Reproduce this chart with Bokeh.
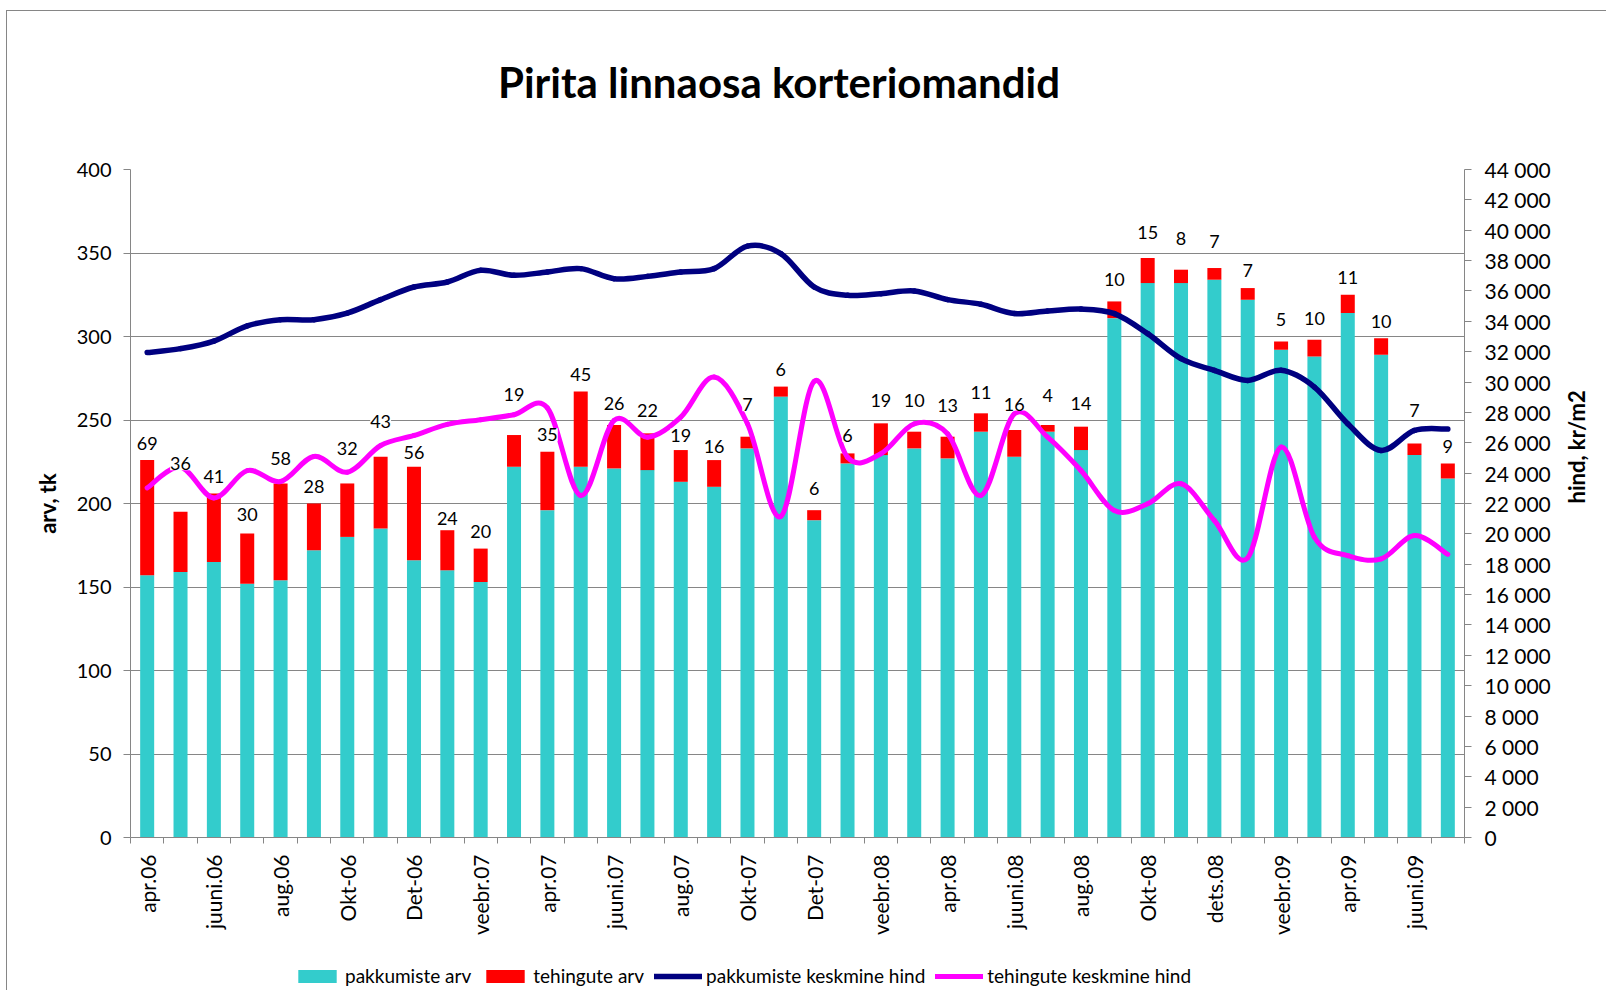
import math
import numpy as np
from bokeh.plotting import figure
from bokeh.layouts import column
from bokeh.models import (Range1d, LinearAxis, FixedTicker, ColumnDataSource,
                          LabelSet, Legend, LegendItem, Div)
from bokeh.core.properties import value
from bokeh.embed import file_html
from bokeh.resources import INLINE

# ---------------- data ----------------
title_text = "Pirita linnaosa korteriomandid"

tick_labels = ["apr.06", "juuni.06", "aug.06", "Okt-06", "Det-06", "veebr.07",
               "apr.07", "juuni.07", "aug.07", "Okt-07", "Det-07", "veebr.08",
               "apr.08", "juuni.08", "aug.08", "Okt-08", "dets.08", "veebr.09",
               "apr.09", "juuni.09"]

# pakkumiste arv (offers), count
offers = [157, 159, 165, 152, 154, 172, 180, 185, 166, 160,
          153, 222, 196, 222, 221, 220, 213, 210, 233, 264,
          190, 224, 229, 233, 227, 243, 228, 243, 232, 311,
          332, 332, 334, 322, 292, 288, 314, 289, 229, 215]

# tehingute arv (deals), count
deals = [69, 36, 41, 30, 58, 28, 32, 43, 56, 24,
         20, 19, 35, 45, 26, 22, 19, 16, 7, 6,
         6, 6, 19, 10, 13, 11, 16, 4, 14, 10,
         15, 8, 7, 7, 5, 10, 11, 10, 7, 9]

# pakkumiste keskmine hind, kr/m2
offer_price = [31940, 32200, 32700, 33700, 34110, 34110, 34540, 35430, 36260, 36590,
               37360, 37030, 37250, 37470, 36810, 36960, 37250, 37470, 38950, 38460,
               36260, 35710, 35820, 36000, 35430, 35120, 34510, 34680, 34810, 34510,
               33190, 31540, 30770, 30110, 30770, 29670, 27250, 25490, 26810, 26900]

# tehingute keskmine hind, kr/m2
deal_price = [23030, 24390, 22370, 24170, 23450, 25100, 24060, 25820, 26480, 27210,
              27520, 27850, 28300, 22530, 27470, 26370, 27690, 30330, 27250, 21150,
              30050, 25050, 25280, 27250, 26590, 22530, 27900, 26370, 24170, 21540,
              21980, 23300, 20880, 18420, 25710, 19780, 18570, 18350, 19890, 18650]

left_ticks = list(range(0, 401, 50))
right_ticks = list(range(0, 44001, 2000))

# style: extra lift (px) of individual data labels, as moved in the original
label_lift = [0, 31, 0, 2, 8, 0, 18, 18, -3, -5,
              0, 24, 0, 0, 5, 6, -2, -3, 15, 0,
              5, 1, 6, 14, 14, 4, 9, 13, 6, 5,
              9, 14, 10, 1, 5, 4, 0, 0, 16, 0]

# ---------------- styling ----------------
n = len(offers)
xs = list(range(n))
FONT = "Lato"
GRID = "#868686"
C_OFF, C_DEAL, C_OP, C_DP = "#33CCCC", "#FF0000", "#000080", "#FF00FF"
W = 1599

# ---------------- title ----------------
title_div = Div(text=('<div style="font-family:Lato;font-size:42px;font-weight:bold;'
                      'color:#000000;line-height:50px;margin:46px 0 0 491px;'
                      'white-space:nowrap">' + title_text + '</div>'),
                width=W, height=100, margin=0)

# ---------------- chart ----------------
p = figure(width=W, height=830,
           x_range=Range1d(-0.5, n - 0.5), y_range=Range1d(0, 400),
           output_backend="svg", toolbar_location=None,
           min_border_left=123, min_border_right=139,
           min_border_top=58, min_border_bottom=104)
p.extra_y_ranges = {"price": Range1d(0, 44000)}
p.outline_line_color = None
p.background_fill_color = "white"
p.border_fill_color = "white"

# bars
totals = list(np.array(offers) + np.array(deals))
src = ColumnDataSource(dict(x=xs, offers=offers, deals=deals, total=totals,
                            txt=[str(d) for d in deals], lift=[17 + l for l in label_lift]))
p.vbar(x="x", width=0.42, bottom=0, top="offers", source=src,
       fill_color=C_OFF, line_color=None)
p.vbar(x="x", width=0.42, bottom="offers", top="total", source=src,
       fill_color=C_DEAL, line_color=None)


def smooth_segments(ys):
    m = len(ys)
    d = dict(x0=[], y0=[], x1=[], y1=[], cx0=[], cy0=[], cx1=[], cy1=[])
    for i in range(m - 1):
        a = i - 1 if i > 0 else i
        b = i + 2 if i + 2 < m else i + 1
        d["x0"].append(i)
        d["y0"].append(ys[i])
        d["x1"].append(i + 1)
        d["y1"].append(ys[i + 1])
        d["cx0"].append(i + (i + 1 - a) / 6.0)
        d["cy0"].append(ys[i] + (ys[i + 1] - ys[a]) / 6.0)
        d["cx1"].append(i + 1 - (b - i) / 6.0)
        d["cy1"].append(ys[i + 1] - (ys[b] - ys[i]) / 6.0)
    return ColumnDataSource(d)


p.bezier(x0="x0", y0="y0", x1="x1", y1="y1", cx0="cx0", cy0="cy0",
         cx1="cx1", cy1="cy1", source=smooth_segments(offer_price),
         y_range_name="price", line_color=C_OP, line_width=5.5, line_cap="round")
p.bezier(x0="x0", y0="y0", x1="x1", y1="y1", cx0="cx0", cy0="cy0",
         cx1="cx1", cy1="cy1", source=smooth_segments(deal_price),
         y_range_name="price", line_color=C_DP, line_width=5, line_cap="round")

# data labels (deal counts)
labels = LabelSet(x="x", y="total", text="txt", source=src, y_offset="lift",
                  text_align="center", text_baseline="middle",
                  text_font=value(FONT), text_font_size=value("18px"),
                  text_color="#000000", background_fill_color="white")
p.add_layout(labels)

# axes
xa = p.xaxis[0]
xa.ticker = FixedTicker(ticks=list(range(0, n, 2)),
                        minor_ticks=[i - 0.5 for i in range(n + 1)])
xa.major_label_overrides = {2 * i: t for i, t in enumerate(tick_labels)}
xa.major_label_orientation = math.pi / 2
xa.major_tick_out = 0
xa.major_tick_in = 0
xa.minor_tick_out = 6
xa.minor_tick_in = 0
xa.minor_tick_line_color = GRID
xa.axis_line_color = GRID
xa.major_label_standoff = 11
xa.major_label_text_font = FONT
xa.major_label_text_font_size = "21px"
xa.major_label_text_color = "#000000"

ya = p.yaxis[0]
ya.ticker = FixedTicker(ticks=left_ticks)
ya.axis_label = "arv, tk"
ya.axis_label_text_font = FONT
ya.axis_label_text_font_style = "bold"
ya.axis_label_text_font_size = "22px"
ya.axis_label_text_color = "#000000"
ya.axis_label_standoff = 13
ya.major_label_text_font = FONT
ya.major_label_text_font_size = "20px"
ya.major_label_text_color = "#000000"
ya.major_label_standoff = 12
ya.major_tick_out = 7
ya.major_tick_in = 0
ya.minor_tick_out = 0
ya.minor_tick_in = 0
ya.axis_line_color = GRID
ya.major_tick_line_color = GRID

ra = LinearAxis(y_range_name="price", ticker=FixedTicker(ticks=right_ticks))
ra.major_label_overrides = {t: "{:,}".format(t).replace(",", " ") for t in right_ticks}
ra.axis_label = "hind, kr/m2"
ra.axis_label_text_font = FONT
ra.axis_label_text_font_style = "bold"
ra.axis_label_text_font_size = "22px"
ra.axis_label_text_color = "#000000"
ra.axis_label_standoff = 23
try:
    ra.axis_label_orientation = math.pi / 2
except Exception:
    pass
ra.major_label_text_font = FONT
ra.major_label_text_font_size = "21px"
ra.major_label_text_color = "#000000"
ra.major_label_standoff = 13
ra.major_tick_out = 7
ra.major_tick_in = 0
ra.minor_tick_out = 0
ra.minor_tick_in = 0
ra.axis_line_color = GRID
ra.major_tick_line_color = GRID
p.add_layout(ra, "right")

p.xgrid.visible = False
p.ygrid.ticker = FixedTicker(ticks=left_ticks)
p.ygrid.grid_line_color = GRID
p.ygrid.grid_line_width = 1

# ---------------- legend strip (below the chart) ----------------
lg = figure(width=W, height=49, x_range=Range1d(0, 1), y_range=Range1d(0, 1),
            output_backend="svg", toolbar_location=None,
            x_axis_location=None, y_axis_location=None,
            min_border_left=0, min_border_right=0, min_border_top=0, min_border_bottom=0)
lg.outline_line_color = None
lg.xgrid.visible = False
lg.ygrid.visible = False
lg.background_fill_color = "white"
lg.border_fill_color = "white"
proxy = ColumnDataSource(dict(x=[0], y=[0], b=[0]))  # zero-size legend proxies
k1 = lg.vbar(x="x", top="y", bottom="b", width=0, source=proxy, fill_color=C_OFF, line_color=None)
k2 = lg.vbar(x="x", top="y", bottom="b", width=0, source=proxy, fill_color=C_DEAL, line_color=None)
k3 = lg.line(x="x", y="y", source=proxy, line_color=C_OP, line_width=5.5, line_cap="round")
k4 = lg.line(x="x", y="y", source=proxy, line_color=C_DP, line_width=5, line_cap="round")
legend = Legend(items=[LegendItem(label="pakkumiste arv", renderers=[k1]),
                       LegendItem(label="tehingute arv", renderers=[k2]),
                       LegendItem(label="pakkumiste keskmine hind", renderers=[k3]),
                       LegendItem(label="tehingute keskmine hind", renderers=[k4])],
                location=(163, 3), orientation="horizontal",
                glyph_width=48, glyph_height=16, label_standoff=4, spacing=10,
                padding=0, margin=0, border_line_color=None,
                background_fill_alpha=0,
                label_text_font=FONT, label_text_font_size="19px",
                label_text_color="#000000")
lg.add_layout(legend, "center")

layout = column(title_div, p, lg, spacing=0,
                styles={"margin-left": "6px", "margin-top": "10px",
                        "border-top": "1px solid #868686",
                        "border-left": "1px solid #868686"})

open("out.html", "w").write(file_html(layout, INLINE))
